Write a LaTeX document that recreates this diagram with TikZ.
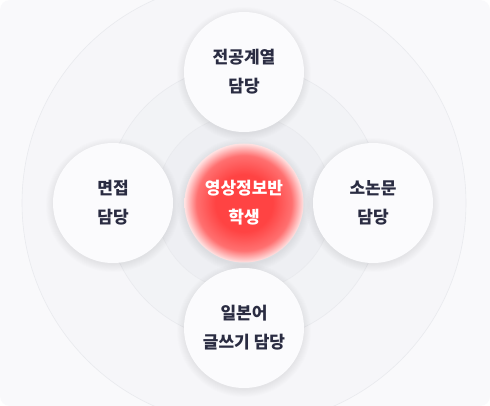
\documentclass[tikz,border=0pt]{standalone}
\usepackage{fontspec}
\newfontfamily\kr{Noto Sans CJK KR}
\definecolor{bg}{HTML}{F9F9FB}
\definecolor{ringA}{HTML}{F6F6F9}
\definecolor{ringB}{HTML}{F2F3F6}
\definecolor{ringC}{HTML}{EEEFF3}
\definecolor{ringline}{HTML}{E9EAEE}
\definecolor{satfill}{HTML}{FBFBFD}
\definecolor{txt}{HTML}{2A2C42}
\definecolor{rcore}{HTML}{FF4343}
\definecolor{rmid}{HTML}{FF7070}
\definecolor{redge}{HTML}{FFE3E3}
\pgfdeclareradialshading{redglow}{\pgfpoint{0bp}{0bp}}{color(0bp)=(rcore); color(12bp)=(rcore); color(20bp)=(rmid); color(25bp)=(redge); color(50bp)=(redge)}
\tikzset{
  sat/.style={circle, minimum size=120pt, inner sep=0pt, fill=satfill, align=center,
    text=txt, font=\kr\bfseries\fontsize{17}{29}\selectfont},
  hub/.style={circle, minimum size=119pt, inner sep=0pt, shading=redglow, align=center,
    text=white, font=\kr\bfseries\fontsize{17}{29}\selectfont},
  ring/.style={draw=ringline, line width=0.6pt}
}
\begin{document}
\begin{tikzpicture}[x=1pt,y=-1pt]
\useasboundingbox (0,0) rectangle (490,406);
\fill[white] (0,0) rectangle (490,406);
\begin{scope}
  \clip[rounded corners=10pt] (0,0) rectangle (490,406);
  \fill[bg] (0,0) rectangle (490,406);
  \filldraw[ring, fill=ringA] (244,203) circle[radius=222pt];
  \filldraw[ring, fill=ringB] (244,203) circle[radius=138pt];
  \filldraw[ring, fill=ringC] (244,203) circle[radius=88pt];
  % soft shadows
  \foreach \p in {(244,72),(113,203),(373,203),(244,328),(244,203)}{
    \foreach \i in {1,...,9}{
      \fill[black, opacity=0.008] \p ++(0,2) circle[radius=59pt+\i*0.9pt];
    }
  }
  \node[sat] (t) at (244,72) {전공계열\\담당};
  \node[sat] (l) at (113,203) {면접\\담당};
  \node[sat] (r) at (373,203) {소논문\\담당};
  \node[sat] (b) at (244,328) {일본어\\글쓰기 담당};
  \node[hub] (c) at (244,203) {영상정보반\\학생};
\end{scope}
\end{tikzpicture}
\end{document}
